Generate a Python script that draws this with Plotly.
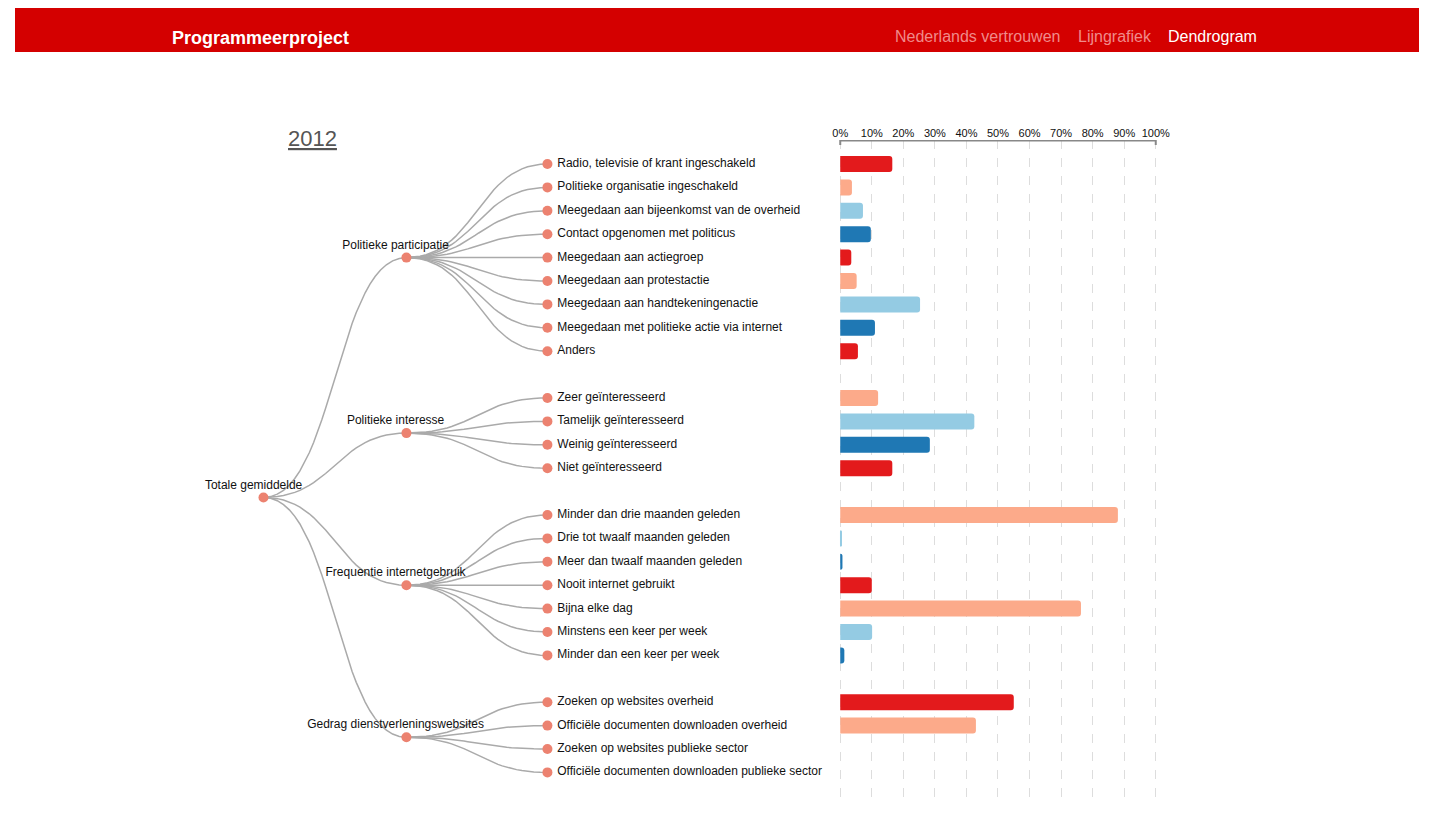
import numpy as np
import plotly.graph_objects as go

# dendrogram data
groups = ["Politieke participatie", "Politieke interesse",
          "Frequentie internetgebruik", "Gedrag dienstverleningswebsites"]
leaves = [
    ["Radio, televisie of krant ingeschakeld", "Politieke organisatie ingeschakeld",
     "Meegedaan aan bijeenkomst van de overheid", "Contact opgenomen met politicus",
     "Meegedaan aan actiegroep", "Meegedaan aan protestactie",
     "Meegedaan aan handtekeningenactie", "Meegedaan met politieke actie via internet", "Anders"],
    ["Zeer geïnteresseerd", "Tamelijk geïnteresseerd", "Weinig geïnteresseerd", "Niet geïnteresseerd"],
    ["Minder dan drie maanden geleden", "Drie tot twaalf maanden geleden",
     "Meer dan twaalf maanden geleden", "Nooit internet gebruikt", "Bijna elke dag",
     "Minstens een keer per week", "Minder dan een keer per week"],
    ["Zoeken op websites overheid", "Officiële documenten downloaden overheid",
     "Zoeken op websites publieke sector", "Officiële documenten downloaden publieke sector"],
]
values = [
    [16.5, 3.7, 7.2, 9.7, 3.5, 5.2, 25.3, 11.0, 5.6],
    [12.0, 42.5, 28.4, 16.5],
    [88.0, 0.4, 0.7, 10.0, 76.3, 10.1, 1.3],
    [55.0, 43.0, 0.0, 0.0],
]
bar_colors = ["#e31a1c", "#fcaa8a", "#94cbe3", "#1f78b4"]
ticks = list(range(0, 101, 10))

# page has an 8px body margin; work in page pixels
M = 8
W, H = 1440 - 2*M, 836 - 2*M
def px(x): return (x - M) / W
def py(y): return 1 - (y - M) / H

x_root, x_mid, x_leaf = 260, 405, 548
y0, step = 164, 23.4

def link(xa, ya, xb, yb, n=30):
    t = np.linspace(0, 1, n)
    xm = (xa + xb) / 2
    lx = (1-t)**3*xa + 3*(1-t)**2*t*xm + 3*(1-t)*t**2*xm + t**3*xb
    ly = (1-t)**3*ya + 3*(1-t)**2*t*ya + 3*(1-t)*t**2*yb + t**3*yb
    return list(lx) + [None], list(ly) + [None]

leaf_y, mid_y, all_leaf, all_val = [], [], [], []
slot = 0
for g, lv in enumerate(leaves):
    ys = [y0 + (slot + i) * step for i in range(len(lv))]
    slot += len(lv) + 1
    leaf_y.append(ys)
    mid_y.append((ys[0] + ys[-1]) / 2)
    all_leaf += lv
    all_val += values[g]
root_y = (mid_y[0] + mid_y[-1]) / 2

lx, ly = [], []
for g in range(len(groups)):
    a, b = link(x_root, root_y, x_mid, mid_y[g]); lx += a; ly += b
    for y in leaf_y[g]:
        a, b = link(x_mid, mid_y[g], x_leaf, y); lx += a; ly += b
flat_y = [y for ys in leaf_y for y in ys]

fig = go.Figure()
fig.add_trace(go.Scatter(x=lx, y=ly, mode="lines", line=dict(color="#aaaaaa", width=1.5),
                         hoverinfo="skip"))
fig.add_trace(go.Scatter(x=[x_root] + [x_mid]*4 + [x_leaf]*len(flat_y),
                         y=[root_y] + mid_y + flat_y, mode="markers",
                         marker=dict(color="#ec8270", size=10), hoverinfo="skip"))
fig.add_trace(go.Scatter(x=[x_leaf + 10]*len(flat_y), y=flat_y, mode="text", text=all_leaf,
                         textposition="middle right", textfont=dict(size=12, color="#111"),
                         hoverinfo="skip"))
fig.add_trace(go.Scatter(x=[x_root - 10] + [x_mid - 11]*4, y=[root_y - 11] + [y - 12 for y in mid_y],
                         mode="text", text=["Totale gemiddelde"] + groups,
                         textposition="middle center", textfont=dict(size=12, color="#111"),
                         hoverinfo="skip"))
fig.add_trace(go.Bar(x=all_val, y=flat_y, orientation="h", width=16, xaxis="x2", yaxis="y2",
                     marker=dict(color=[bar_colors[i % 4] for i in range(len(all_val))],
                                 cornerradius=3, line=dict(width=0)), hoverinfo="x"))

top, bot = 140, 800
pad = 0.4  # % of axis kept so the 0% and 100% grid lines still show
x0p, x1p = 845, 1165
k = (x1p - x0p) / 100
fig.update_layout(
    width=W, height=H, margin=dict(l=0, r=0, t=0, b=0),
    paper_bgcolor="white", plot_bgcolor="rgba(0,0,0,0)", showlegend=False,
    font=dict(family="Liberation Sans, Arial, sans-serif"),
    xaxis=dict(range=[M, M + W], visible=False, domain=[0, 1]),
    yaxis=dict(range=[M + H, M], visible=False, domain=[0, 1]),
    xaxis2=dict(domain=[px(x0p - pad*k), px(x1p + pad*k)], range=[-pad, 100 + pad],
                anchor="y2", side="top",
                tickvals=ticks, ticktext=[f"{t}%" for t in ticks], tickfont=dict(size=11, color="#111"),
                ticks="", showgrid=True, gridcolor="#dddddd", griddash="dash",
                zeroline=False, fixedrange=True, showline=False),
    yaxis2=dict(domain=[py(bot), py(top)], range=[bot, top], visible=False, anchor="x2"),
    shapes=[
        dict(type="rect", xref="paper", yref="paper", x0=0, x1=1, y0=py(52), y1=1,
             fillcolor="#d40000", line=dict(width=0), layer="below"),
        dict(type="line", xref="x2", yref="y2", x0=0, x1=100, y0=top, y1=top,
             line=dict(color="#888", width=3)),
        dict(type="line", xref="x2", yref="y2", x0=0, x1=0, y0=top, y1=top + 5,
             line=dict(color="#888", width=2)),
        dict(type="line", xref="x2", yref="y2", x0=100, x1=100, y0=top, y1=top + 5,
             line=dict(color="#888", width=2)),
    ],
    annotations=[
        dict(x=px(165), y=py(26), xref="paper", yref="paper", xanchor="left", showarrow=False,
             text="<b>Programmeerproject</b>", font=dict(size=18, color="white")),
        dict(x=px(899), y=py(26), xref="paper", yref="paper", xanchor="left", showarrow=False,
             text="Nederlands vertrouwen", font=dict(size=16, color="#f08a8a")),
        dict(x=px(1084), y=py(26), xref="paper", yref="paper", xanchor="left", showarrow=False,
             text="Lijngrafiek", font=dict(size=16, color="#f08a8a")),
        dict(x=px(1175), y=py(26), xref="paper", yref="paper", xanchor="left", showarrow=False,
             text="Dendrogram", font=dict(size=16, color="white")),
        dict(x=px(283), y=py(124), xref="paper", yref="paper", xanchor="left", showarrow=False,
             text="<u>2012</u>", font=dict(size=22, color="#555")),
    ],
)
fig.write_html("out.html")
